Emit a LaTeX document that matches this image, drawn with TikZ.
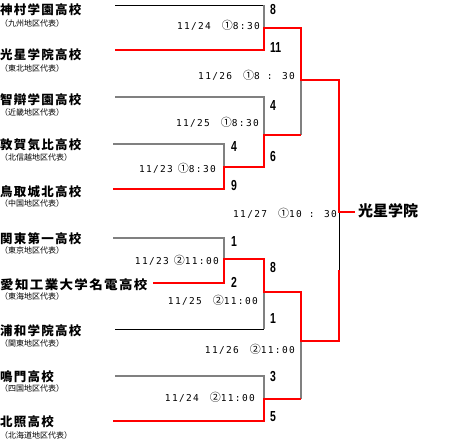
\documentclass[tikz,border=0pt]{standalone}
\usepackage{fontspec}
\usepackage{graphicx}
\newfontfamily\jp{Noto Sans CJK JP}
\newfontfamily\jpwide{Noto Sans CJK JP}[LetterSpace=10]
\newfontfamily\datefont{DejaVu Sans Mono}[LetterSpace=14]
\newfontfamily\scorefont{Liberation Sans}
\newcommand\cir[1]{{\jp\fontsize{11}{10}\selectfont #1}}
\newcommand\sco[1]{\scalebox{0.72}[1]{#1}}
\tikzset{
  team/.style={anchor=west, inner sep=0pt, font=\jpwide\bfseries\fontsize{12.5}{14}\selectfont},
  sub/.style={anchor=west, inner sep=0pt, font=\jp\fontsize{8}{8}\selectfont},
  date/.style={anchor=east, inner sep=0pt, font=\datefont\fontsize{9.5}{9}\selectfont},
  score/.style={anchor=west, inner sep=0pt, font=\scorefont\bfseries\fontsize{14.5}{15}\selectfont},
  winner/.style={anchor=west, inner sep=0pt, font=\jp\bfseries\fontsize{15}{16}\selectfont},
  winline/.style={draw=red, line width=2pt, line join=miter},
  loseline/.style={draw=gray, line width=1.6pt, line join=miter},
  blkline/.style={draw=black, line width=0.9pt},
}
\begin{document}
\begin{tikzpicture}[x=1pt,y=-1pt]
\useasboundingbox (0,0) rectangle (465,442);
% team names
\node[team] (n1) at (0,10) {神村学園高校};
\node[sub] (s1) at (0,23.5) {（九州地区代表）};
\node[team] (n2) at (0,55) {光星学院高校};
\node[sub] (s2) at (0,68) {（東北地区代表）};
\node[team] (n3) at (0,100) {智辯学園高校};
\node[sub] (s3) at (0,112) {（近畿地区代表）};
\node[team] (n4) at (0,145) {敦賀気比高校};
\node[sub] (s4) at (0,157) {（北信越地区代表）};
\node[team] (n5) at (0,192) {鳥取城北高校};
\node[sub] (s5) at (0,203.5) {（中国地区代表）};
\node[team] (n6) at (0,239) {関東第一高校};
\node[sub] (s6) at (0,250.5) {（東京地区代表）};
\node[team] (n7) at (0,285) {\scalebox{1.08}[1]{愛知工業大学名電高校}};
\node[sub] (s7) at (0,296.5) {（東海地区代表）};
\node[team] (n8) at (0,331) {浦和学院高校};
\node[sub] (s8) at (0,343) {（関東地区代表）};
\node[team] (n9) at (0,377) {鳴門高校};
\node[sub] (s9) at (0,388.5) {（四国地区代表）};
\node[team] (n10) at (0,422) {北照高校};
\node[sub] (s10) at (0,435) {（北海道地区代表）};
% coordinates
\coordinate (L1) at (115,5);
\coordinate (L2) at (115,50);
\coordinate (L3) at (115,97);
\coordinate (L4) at (113,144);
\coordinate (L5) at (113,189);
\coordinate (L6) at (113,238);
\coordinate (L7) at (153,283);
\coordinate (L8) at (115,329);
\coordinate (L9) at (115,376);
\coordinate (L10) at (113,421);
\coordinate (A1) at (224,144); \coordinate (A2) at (224,189); \coordinate (AJ) at (224,167);
\coordinate (B1) at (224,238); \coordinate (B2) at (224,283); \coordinate (BJ) at (224,259);
\coordinate (C1) at (264,5);   \coordinate (C2) at (264,50);  \coordinate (CJ) at (264,28);
\coordinate (D1) at (264,97);  \coordinate (D2) at (264,167); \coordinate (DJ) at (264,135);
\coordinate (E1) at (264,259); \coordinate (E2) at (264,329); \coordinate (EJ) at (264,292);
\coordinate (F1) at (264,376); \coordinate (F2) at (264,421); \coordinate (FJ) at (264,399);
\coordinate (S1) at (301,28);  \coordinate (S2) at (301,135); \coordinate (SJ) at (301,80);
\coordinate (U1) at (301,292); \coordinate (U2) at (301,399); \coordinate (UJ) at (301,341);
\coordinate (V1) at (339,80);  \coordinate (V2) at (339,341); \coordinate (VJ) at (339,212);
\coordinate (VM) at (339,270);
\coordinate (W) at (355,212);
% losing lines
\draw[blkline] (L1) -- (C1);
\draw[loseline] (C1) -- (CJ);
\draw[loseline] (L3) -- (D1) -- (DJ);
\draw[loseline] (L4) -- (A1) -- (AJ);
\draw[loseline] (SJ) -- (S2);
\draw[loseline] (L6) -- (B1) -- (BJ);
\draw[blkline] (L8) -- (E2);
\draw[loseline] (E2) -- (EJ);
\draw[loseline] (L9) -- (F1) -- (FJ);
\draw[loseline] (UJ) -- (U2);
\draw[blkline] (VJ) -- (VM);
% winning lines
\draw[winline] (L2) -- (C2) -- (CJ) -- (S1) -- (SJ) -- (V1) -- (VJ) -- (W);
\draw[winline] (L5) -- (A2) -- (AJ) -- (D2) -- (DJ) -- (S2);
\draw[winline] (L7) -- (B2) -- (BJ) -- (E1) -- (EJ) -- (U1) -- (UJ) -- (V2) -- (VM);
\draw[winline] (L10) -- (F2) -- (FJ) -- (U2);
% winner
\node[winner] (champ) at (358,211) {光星学院};
% dates
\node[date] (d1) at (260,25) {11/24\hspace{11pt}\cir{①}8:30};
\node[date] (d2) at (295,75) {11/26\hspace{11pt}\cir{①}8 : 30};
\node[date] (d3) at (259,122) {11/25\hspace{11pt}\cir{①}8:30};
\node[date] (d4) at (216,168) {11/23\hspace{5pt}\cir{①}8:30};
\node[date] (d5) at (337,213) {11/27\hspace{11pt}\cir{①}10 : 30};
\node[date] (d6) at (219,260) {11/23\hspace{5pt}\cir{②}11:00};
\node[date] (d7) at (258,300) {11/25\hspace{11pt}\cir{②}11:00};
\node[date] (d8) at (295,349) {11/26\hspace{11pt}\cir{②}11:00};
\node[date] (d9) at (255,397) {11/24\hspace{11pt}\cir{②}11:00};
% scores
\node[score] (p1) at (270,10) {\sco{8}};
\node[score] (p2) at (270,48) {\sco{11}};
\node[score] (p3) at (270,106) {\sco{4}};
\node[score] (p4) at (231,147) {\sco{4}};
\node[score] (p5) at (231,186) {\sco{9}};
\node[score] (p6) at (270,157) {\sco{6}};
\node[score] (p7) at (231,242) {\sco{1}};
\node[score] (p8) at (270,268) {\sco{8}};
\node[score] (p9) at (231,282) {\sco{2}};
\node[score] (p10) at (270,319) {\sco{1}};
\node[score] (p11) at (270,377) {\sco{3}};
\node[score] (p12) at (270,417) {\sco{5}};
\end{tikzpicture}
\end{document}
